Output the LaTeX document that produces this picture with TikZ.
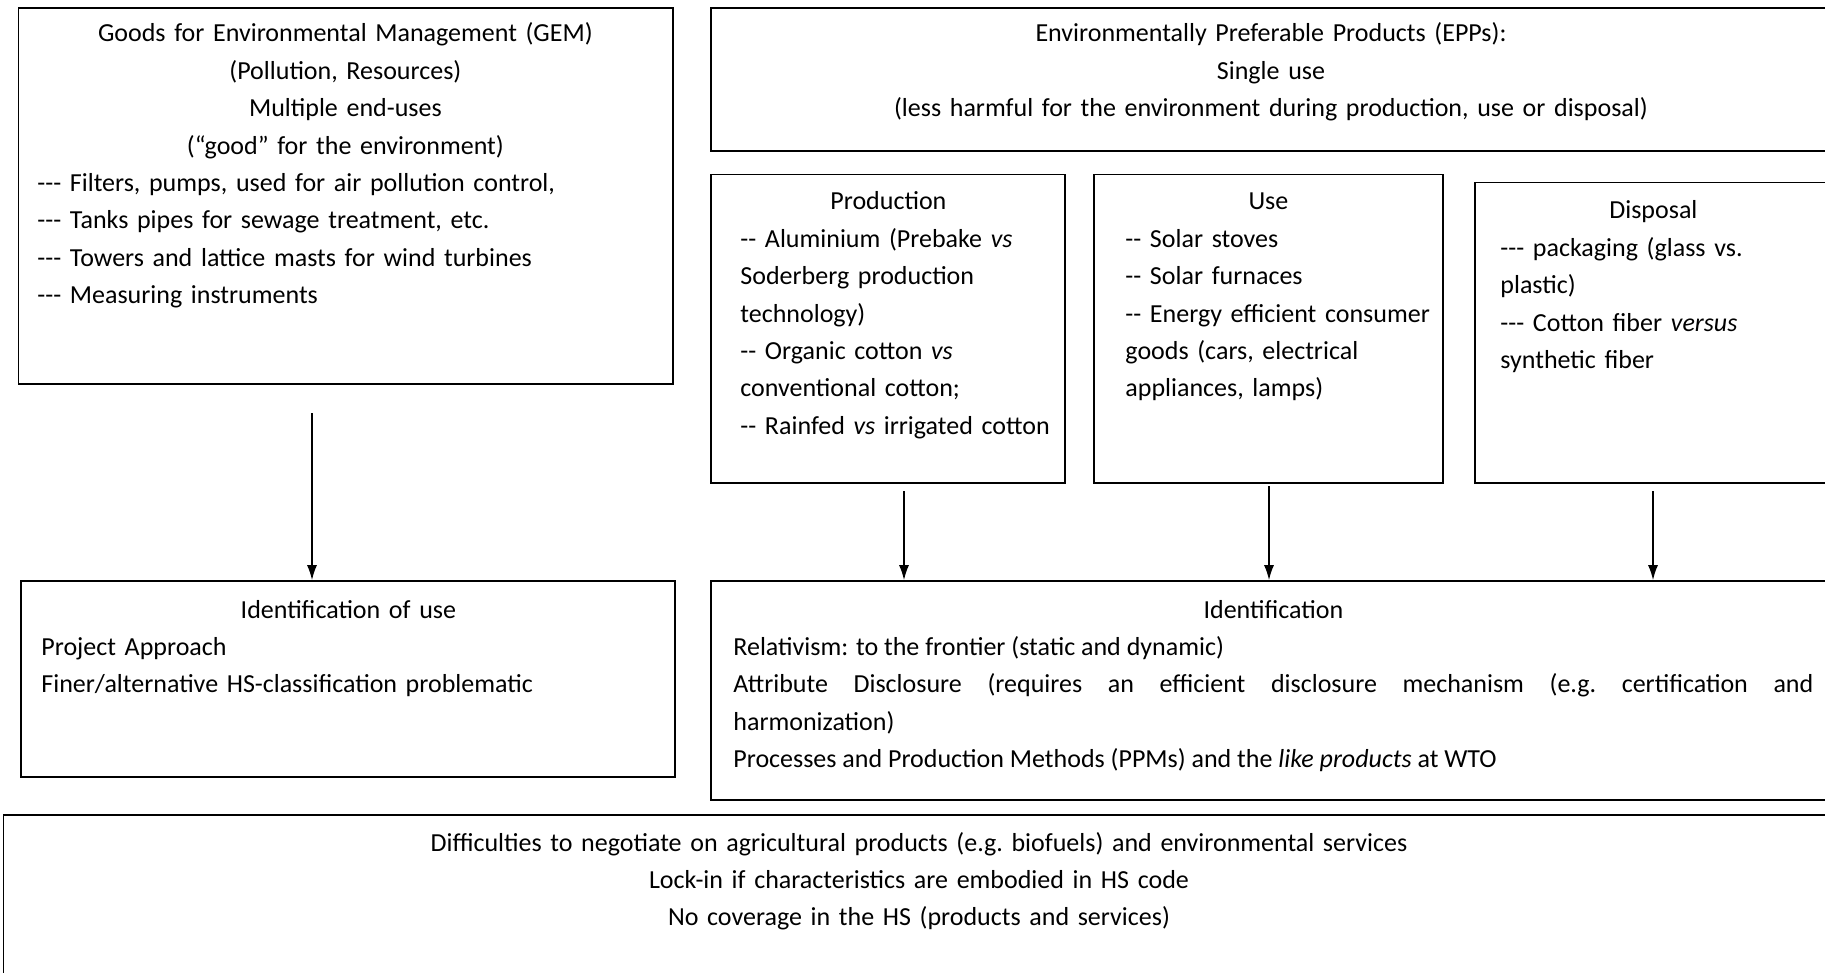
\documentclass[tikz,border=0pt]{standalone}
\usepackage{fontspec}
\setmainfont{Carlito}
\usetikzlibrary{arrows.meta,fit,positioning}
\tikzset{>=latex}
\newcommand{\hd}[1]{\makebox[\linewidth][c]{#1}}

\begin{document}
\begin{tikzpicture}[x=0.5pt,y=-0.5pt,
  box/.style={draw, line width=0.8pt, inner sep=0pt},
  txt/.style={anchor=base west, inner sep=0pt, align=left, font=\fontsize{13}{18.7}\selectfont},
  ctxt/.style={anchor=base, inner sep=0pt, text width=540pt, align=center, font=\fontsize{13}{18.7}\selectfont},
  arr/.style={line width=0.8pt, -{Latex[length=7.5pt,width=5pt]}}]
\useasboundingbox (0,0) rectangle (1825,973);
\clip (0,0) rectangle (1825,973);

% boxes
\node[box, fit={(18.6,8) (672.7,384)}] (gem) {};
\node[box, fit={(711,8) (1831,151)}] (epp) {};
\node[box, fit={(711,174.6) (1065,483)}] (prod) {};
\node[box, fit={(1094,174.6) (1443,483)}] (use) {};
\node[box, fit={(1475,182.7) (1831,483)}] (disp) {};
\node[box, fit={(21,581) (675,777)}] (iduse) {};
\node[box, fit={(711,581) (1831,800)}] (ident) {};
\node[box, fit={(3.5,815) (1840,990)}] (diff) {};

% texts
\node[txt, text width=308pt] (gemtxt) at (37,42) {%
  \hd{Goods for Environmental Management (GEM)}\\
  \hd{(Pollution, Resources)}\\
  \hd{Multiple end-uses}\\
  \hd{(“good” for the environment)}\\
  -{}-{}- Filters, pumps, used for air pollution control,\\
  -{}-{}- Tanks pipes for sewage treatment, etc.\\
  -{}-{}- Towers and lattice masts for wind turbines\\
  -{}-{}- Measuring instruments};
\node[ctxt] (epptxt) at (1271,42) {%
  Environmentally Preferable Products (EPPs):\\
  Single use\\
  (less harmful for the environment during production, use or disposal)};
\node[txt, text width=148pt] (prodtxt) at (740,210) {%
  \hd{Production}\\
  -{}- Aluminium (Prebake \emph{vs}\\
  Soderberg production\\
  technology)\\
  -{}- Organic cotton \emph{vs}\\
  conventional cotton;\\
  \mbox{-{}- Rainfed \emph{vs} irrigated cotton}};
\node[txt, text width=143pt] (usetxt) at (1125,210) {%
  \hd{Use}\\
  -{}- Solar stoves\\
  -{}- Solar furnaces\\
  \mbox{-{}- Energy efficient consumer}\\
  goods (cars, electrical\\
  appliances, lamps)};
\node[txt, text width=153pt] (disptxt) at (1500,219) {%
  \hd{Disposal}\\
  -{}-{}- packaging (glass vs.\\
  plastic)\\
  -{}-{}- Cotton fiber \emph{versus}\\
  synthetic fiber};
\node[txt, text width=307pt] (idusetxt) at (41,618) {%
  \hd{Identification of use}\\
  Project Approach\\
  Finer/alternative HS-classification problematic};
\node[txt, text width=540pt, align=justify] (identtxt) at (733,618) {%
  \hd{Identification}\\
  Relativism: to the frontier (static and dynamic)\\
  Attribute Disclosure (requires an efficient disclosure mechanism (e.g.\ certification and\linebreak
  harmonization)\\
  Processes and Production Methods (PPMs) and the \emph{like products} at WTO};
\node[ctxt] (difftxt) at (919,851) {%
  Difficulties to negotiate on agricultural products (e.g.\ biofuels) and environmental services\\
  Lock-in if characteristics are embodied in HS code\\
  No coverage in the HS (products and services)};

% arrows
\coordinate (s1) at (312,413);
\coordinate (s2) at (904,491);
\coordinate (s3) at (1269,486);
\coordinate (s4) at (1653,491);
\draw[arr] (s1) -- (s1 |- iduse.north);
\draw[arr] (s2) -- (s2 |- ident.north);
\draw[arr] (s3) -- (s3 |- ident.north);
\draw[arr] (s4) -- (s4 |- ident.north);

\end{tikzpicture}
\end{document}
